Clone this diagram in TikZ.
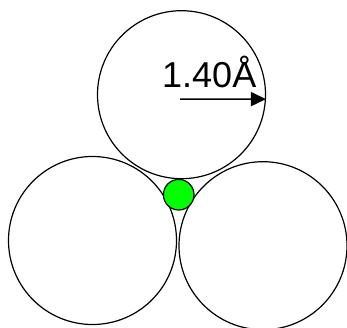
\documentclass[tikz,border=0pt]{standalone}
\usepackage{fontspec}
\setmainfont{Liberation Sans}
\usetikzlibrary{arrows.meta}

\tikzset{
  atom/.style={draw, circle, line width=1.2pt, inner sep=0pt, minimum size=168pt},
  hole/.style={draw, circle, fill=green, line width=1.2pt, inner sep=0pt, minimum size=30.6pt}
}

\begin{document}
\begin{tikzpicture}[x=1pt, y=-1pt]
        \useasboundingbox (0,0) rectangle (347,328);

        % the three big spheres
        \node[atom] (top) at (181.5,94.7) {};
        \node[atom] (left) at (92.5,240.5) {};
        \node[atom] (right) at (263,245.7) {};

        % the small one in the gap
        \node[hole] (gap) at (178.7,194.7) {};

        % radius
        \coordinate (rstart) at (180,99.1);
        \draw[line width=1.6pt, -{Triangle[length=15pt,width=14pt]}] (rstart) -- (top.-3);
        \node[anchor=base west, inner sep=0pt, font=\fontsize{36}{36}\selectfont] (radius) at (162,87.3) {1.40Å};
      \end{tikzpicture}
\end{document}
